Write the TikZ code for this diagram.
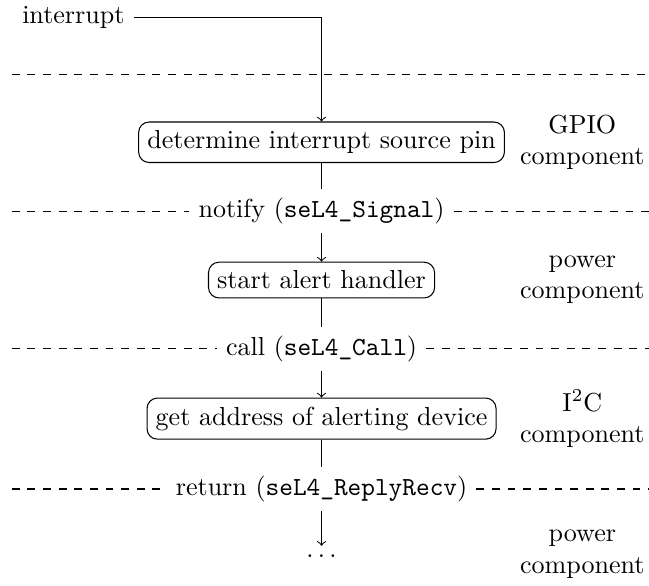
\documentclass[tikz,border=0pt]{standalone}
\usetikzlibrary{positioning}

\begin{document}
\begin{tikzpicture}[
    stage/.style={draw, rounded corners},
    comp/.style={align=center},
    sep/.style={dashed}
  ]
  \useasboundingbox (0,0) rectangle (8.76,-7.9);

  % Interrupt
  \node (irq) at (0.99,-0.23) {interrupt};
  \draw[sep] (0.16,-1) -- (8.76,-1);

  % GPIO component
  \node[stage] (pin) at (4.34,-1.92) {determine interrupt source pin};
  \node[comp] (gpio) at (7.86,-1.92) {GPIO\\component};
  \draw[->] (irq) -| (pin);

  % Notify
  \node (notify) at (4.34,-2.85) {notify (\texttt{seL4\_Signal})};
  \draw[sep] (0.16,-2.85) -- (notify);
  \draw[sep] (notify) -- (8.76,-2.85);
  \draw (pin) -- (notify);

  % Power component
  \node[stage] (alert) at (4.34,-3.78) {start alert handler};
  \node[comp] (power) at (7.86,-3.78) {power\\component};
  \draw[->] (notify) -- (alert);

  % Call
  \node (call) at (4.34,-4.71) {call (\texttt{seL4\_Call})};
  \draw[sep] (0.16,-4.71) -- (call);
  \draw[sep] (call) -- (8.76,-4.71);
  \draw (alert) -- (call);

  % I2C component
  \node[stage] (addr) at (4.34,-5.65) {get address of alerting device};
  \node[comp] (i2c) at (7.86,-5.65) {I$^2$C\\component};
  \draw[->] (call) -- (addr);

  % Return
  \node (ret) at (4.34,-6.6) {return (\texttt{seL4\_ReplyRecv})};
  \draw[sep] (0.16,-6.6) -- (ret);
  \draw[sep] (ret) -- (8.76,-6.6);
  \draw (addr) -- (ret);

  % Back to power component
  \node (more) at (4.34,-7.51) {$\ldots$};
  \node[comp] (power2) at (7.86,-7.48) {power\\component};
  \draw[->] (ret) -- (more);
\end{tikzpicture}
\end{document}
